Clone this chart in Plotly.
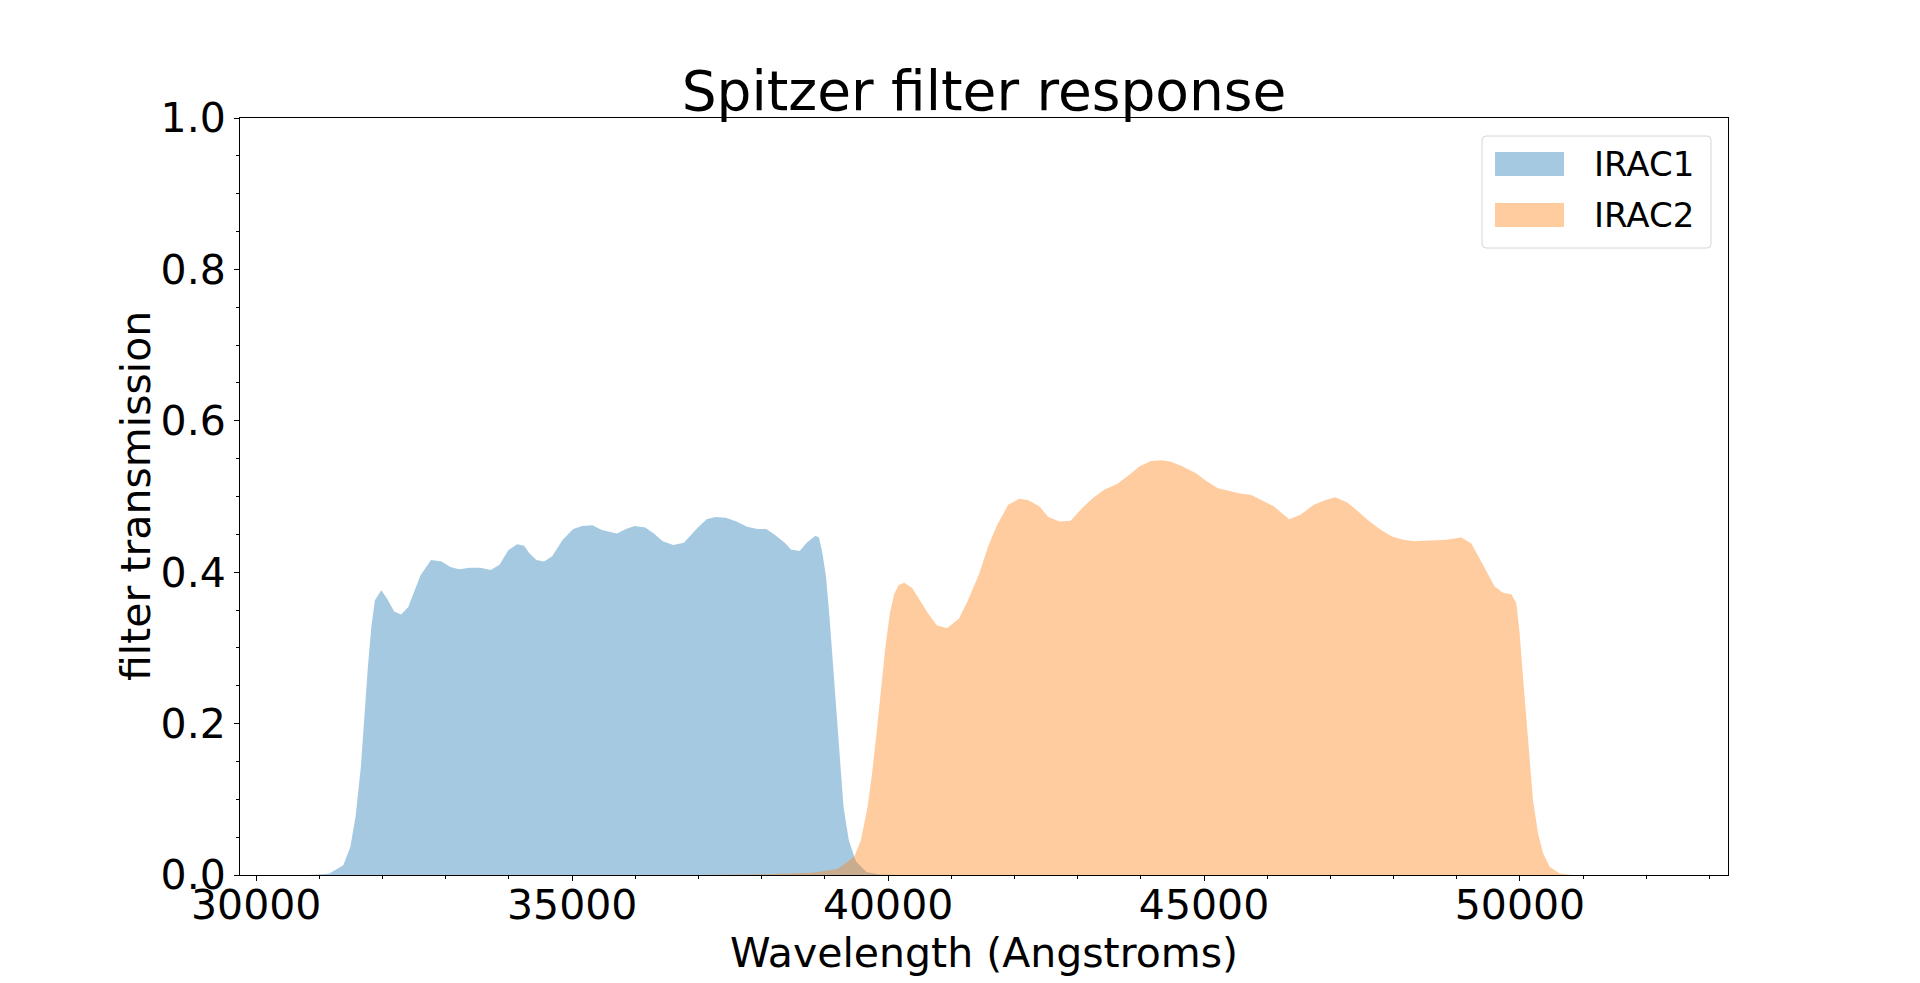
import plotly.graph_objects as go

# ---- data ----
irac1_wavelength = [30813, 31000, 31156, 31378, 31489, 31572, 31656, 31711, 31767, 31822,
                    31878, 31978, 32072, 32183, 32294, 32406, 32600, 32767, 32933, 33072,
                    33211, 33378, 33544, 33711, 33850, 33989, 34128, 34239, 34322, 34433,
                    34556, 34683, 34850, 35017, 35156, 35322, 35461, 35600, 35711, 35850,
                    35989, 36156, 36294, 36433, 36600, 36767, 36878, 36989, 37128, 37267,
                    37433, 37600, 37767, 37933, 38072, 38211, 38378, 38461, 38600, 38711,
                    38850, 38906, 38961, 39017, 39072, 39128, 39183, 39239, 39294, 39378,
                    39489, 39656, 39867, 40200]
irac1_transmission = [0.0, 0.0005, 0.002, 0.013, 0.037, 0.077, 0.143, 0.209, 0.275, 0.328,
                      0.363, 0.376, 0.365, 0.348, 0.344, 0.354, 0.396, 0.416, 0.414, 0.407,
                      0.404, 0.406, 0.406, 0.403, 0.410, 0.429, 0.437, 0.435, 0.425, 0.416,
                      0.414, 0.421, 0.443, 0.457, 0.461, 0.462, 0.456, 0.453, 0.451, 0.457,
                      0.461, 0.459, 0.451, 0.441, 0.436, 0.439, 0.449, 0.459, 0.470, 0.473,
                      0.472, 0.467, 0.460, 0.457, 0.457, 0.449, 0.438, 0.430, 0.428, 0.439,
                      0.448, 0.446, 0.425, 0.394, 0.341, 0.275, 0.209, 0.143, 0.090, 0.046,
                      0.018, 0.004, 0.0005, 0.0]

irac2_wavelength = [37000, 38000, 38800, 39200, 39463, 39569, 39675, 39746, 39816, 39887,
                    39958, 40028, 40099, 40169, 40254, 40381, 40487, 40628, 40770, 40932,
                    41123, 41264, 41441, 41582, 41723, 41900, 42076, 42218, 42394, 42535,
                    42712, 42888, 43065, 43242, 43418, 43630, 43806, 43983, 44160, 44336,
                    44477, 44654, 44866, 45042, 45219, 45395, 45572, 45749, 45925, 46102,
                    46349, 46525, 46737, 46914, 47076, 47267, 47444, 47620, 47797, 47973,
                    48150, 48326, 48573, 48834, 49071, 49230, 49414, 49599, 49731, 49863,
                    49942, 49995, 50047, 50100, 50153, 50206, 50285, 50364, 50470, 50628,
                    50840, 52221]
irac2_transmission = [0.0, 0.001, 0.003, 0.008, 0.024, 0.046, 0.090, 0.134, 0.187, 0.244,
                      0.302, 0.346, 0.372, 0.383, 0.386, 0.379, 0.365, 0.346, 0.330, 0.326,
                      0.339, 0.363, 0.398, 0.434, 0.462, 0.489, 0.497, 0.495, 0.487, 0.473,
                      0.467, 0.468, 0.484, 0.498, 0.509, 0.517, 0.528, 0.540, 0.547, 0.548,
                      0.546, 0.540, 0.531, 0.520, 0.511, 0.507, 0.504, 0.502, 0.495, 0.487,
                      0.470, 0.476, 0.489, 0.495, 0.499, 0.492, 0.480, 0.467, 0.456, 0.447,
                      0.443, 0.441, 0.442, 0.443, 0.446, 0.438, 0.410, 0.381, 0.373, 0.371,
                      0.359, 0.319, 0.262, 0.209, 0.152, 0.099, 0.055, 0.029, 0.011, 0.002,
                      0.0, 0.0]

series_names = ["IRAC1", "IRAC2"]
x_tick_values = [30000, 35000, 40000, 45000, 50000]
y_tick_values = [0.0, 0.2, 0.4, 0.6, 0.8, 1.0]

# ---- styling ----
FONT = "DejaVu Sans"
BLUE_FILL = "rgba(31,119,180,0.4)"
ORANGE_FILL = "rgba(255,127,14,0.4)"
W, H = 1920, 983
ML, MR, MT, MB = 240, 192, 118, 108
PW, PH = W - ML - MR, H - MT - MB

fig = go.Figure()
for name, xs, ys, col in [(series_names[0], irac1_wavelength, irac1_transmission, BLUE_FILL),
                          (series_names[1], irac2_wavelength, irac2_transmission, ORANGE_FILL)]:
    fig.add_trace(go.Scatter(x=xs, y=ys, name=name, mode="lines", fill="tozeroy",
                             fillcolor=col, line=dict(width=0, color=col),
                             showlegend=False, hoverinfo="x+y+name"))

axis_common = dict(showline=True, mirror=True, linecolor="black", linewidth=1,
                   showgrid=False, zeroline=False, ticks="outside", ticklen=5,
                   tickwidth=1, tickcolor="black", automargin=False,
                   tickfont=dict(family=FONT, size=41, color="black"))

fig.update_xaxes(range=[29743, 53292], tickvals=x_tick_values,
                 ticktext=[str(v) for v in x_tick_values],
                 ticklabelstandoff=-11,
                 minor=dict(dtick=1000, tick0=0, ticks="outside", ticklen=3,
                            tickwidth=1, tickcolor="black"),
                 title=dict(text="Wavelength (Angstroms)",
                            font=dict(family=FONT, size=41, color="black"), standoff=2),
                 **axis_common)
fig.update_yaxes(range=[0, 1], tickvals=y_tick_values,
                 ticktext=[f"{v:.1f}" for v in y_tick_values],
                 minor=dict(dtick=0.05, tick0=0, ticks="outside", ticklen=3,
                            tickwidth=1, tickcolor="black"),
                 **axis_common)


def px_to_paper(px, py):
    return (px - ML) / PW, (H - MB - py) / PH


shapes = []
annotations = []

# y-axis title
yt_x, yt_y = px_to_paper(136, 496)
annotations.append(dict(text="filter transmission", xref="paper", yref="paper",
                        x=yt_x, y=yt_y, xanchor="center", yanchor="middle",
                        textangle=-90, showarrow=False,
                        font=dict(family=FONT, size=41, color="black")))

# ---- legend (matplotlib style, upper right) ----
lx0, ly0 = px_to_paper(1482, 136)
lx1, ly1 = px_to_paper(1711, 248)
rx, ry = 4 / PW, 4 / PH
path = (f"M{lx0+rx},{ly0} L{lx1-rx},{ly0} Q{lx1},{ly0} {lx1},{ly0-ry} "
        f"L{lx1},{ly1+ry} Q{lx1},{ly1} {lx1-rx},{ly1} L{lx0+rx},{ly1} "
        f"Q{lx0},{ly1} {lx0},{ly1+ry} L{lx0},{ly0-ry} Q{lx0},{ly0} {lx0+rx},{ly0} Z")
shapes.append(dict(type="path", xref="paper", yref="paper", path=path,
                   fillcolor="rgba(255,255,255,0.8)", line=dict(color="#d6d6d6", width=1),
                   layer="above"))
for i, (name, col) in enumerate(zip(series_names, [BLUE_FILL, ORANGE_FILL])):
    top = 152 + i * 51
    x0, y0 = px_to_paper(1495, top)
    x1, y1 = px_to_paper(1564, top + 24)
    shapes.append(dict(type="rect", xref="paper", yref="paper", x0=x0, x1=x1, y0=y1, y1=y0,
                       fillcolor=col, line=dict(width=0), layer="above"))
    tx, ty = px_to_paper(1592, top + 12)
    annotations.append(dict(text=name, xref="paper", yref="paper", x=tx, y=ty,
                            xanchor="left", yanchor="middle", showarrow=False,
                            font=dict(family=FONT, size=34, color="black")))

fig.update_layout(
    width=W, height=H, autosize=False,
    margin=dict(l=ML, r=MR, t=MT, b=MB, pad=0),
    paper_bgcolor="white", plot_bgcolor="white",
    font=dict(family=FONT, color="black"),
    title=dict(text="Spitzer filter response", x=0.5, xref="paper",
               y=1 - 91 / H, yref="container", yanchor="middle", xanchor="center",
               font=dict(family=FONT, size=55, color="black")),
    shapes=shapes, annotations=annotations, showlegend=False,
)

fig.write_html("out.html", config={"displayModeBar": False},
               post_script="document.body.style.margin='0px';")
